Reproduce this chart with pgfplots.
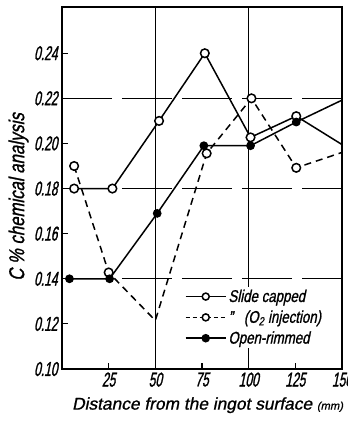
\documentclass[border=0pt]{standalone}
\usepackage{pgfplots}
\pgfplotsset{compat=1.18}
\usepackage{fontspec}
\setmainfont{Liberation Sans}
\newfontfamily\tickfont[FakeStretch=0.6,FakeSlant=0.2,FakeBold=1.2]{Liberation Sans}
\newfontfamily\labfont[FakeStretch=0.78,FakeSlant=0.2,FakeBold=1]{Liberation Sans}
\newfontfamily\xlabfont[FakeStretch=1.02,FakeSlant=0.2,FakeBold=1]{Liberation Sans}
\begin{document}
\begin{tikzpicture}[x=1pt,y=1pt]
\useasboundingbox (-62,-52) rectangle (286,369);
\begin{axis}[at={(0,0)},anchor=south west,scale only axis,width=280pt,height=362pt,
  xmin=0,xmax=150,ymin=0.10,ymax=0.2605,
  xtick={25,50,75,100,125,150},xticklabels={25,50,75,100,125,150},
  ytick={0.10,0.12,0.14,0.16,0.18,0.20,0.22,0.24},
  yticklabels={0.10,0.12,0.14,0.16,0.18,0.20,0.22,0.24},
  tick align=inside, tick pos=left, major tick length=6pt,
  axis line style={line width=2pt},
  tick style={line width=1.2pt,black},
  tick label style={font=\tickfont\fontsize{20}{22}\selectfont},
  xticklabel style={yshift=0pt},
  yticklabel style={xshift=-1pt},
  extra x ticks={50,100}, extra x tick labels={},
  extra x tick style={grid=major, major tick length=0pt, major grid style={solid,line width=1.2pt,black}},
  extra y ticks={0.14,0.18,0.22}, extra y tick labels={},
  extra y tick style={grid=major, major tick length=0pt, major grid style={line width=1.2pt,black,dash pattern=on 50pt off 10pt}},
  xlabel={Distance from the ingot surface {\fontsize{11}{12}\selectfont(mm)}},
  xlabel style={font=\xlabfont\fontsize{17}{20}\selectfont, at={(axis description cs:0.52,-0.1)}, anchor=center},
  ylabel={C \% chemical analysis},
  ylabel style={font=\labfont\fontsize{21.5}{24}\selectfont, at={(axis description cs:-0.155,0.475)}, anchor=center},
  legend style={at={(0.435,0.228)}, anchor=north west, draw=none, fill=white,
    font=\labfont\fontsize{17}{20}\selectfont, row sep=3pt, inner sep=1pt},
  legend cell align=left,
  legend image code/.code={\draw[mark repeat=2,mark phase=2] plot coordinates {(0pt,0pt) (20pt,0pt) (40pt,0pt)};},
]
\addlegendimage{black, line width=1.5pt, mark=*, mark size=3.5pt, mark options={fill=white}}
\addlegendimage{black, line width=1.5pt, dash pattern=on 4pt off 3pt, mark=*, mark size=3.5pt, mark options={fill=white,solid}}
\addlegendimage{black, line width=1.5pt, mark=*, mark size=3.5pt, mark options={fill=black}}
% O2 injection line
\addplot[forget plot, black, line width=1.5pt, dash pattern=on 7pt off 5pt] coordinates {
(6.5,0.190) (25,0.1428) (50,0.1215) (77.5,0.1956) (101.5,0.2200) (125.5,0.1892) (151,0.1963)};
\addplot[forget plot, only marks, black, line width=1.5pt, mark=*, mark size=4.3pt, mark options={fill=white}] coordinates {
(6.5,0.190) (25,0.1428) (77.5,0.1956) (101.5,0.2200) (125.5,0.1892) (151,0.1963)};
% Slide capped
\addplot[forget plot, black, line width=1.5pt, mark=*, mark size=4.3pt, mark options={fill=white}] coordinates {
(6.5,0.180) (27,0.180) (52,0.210) (76.5,0.240) (101,0.2027) (125.5,0.2121) (151,0.199)};
% Open-rimmed
\addplot[forget plot, black, line width=1.5pt, mark=*, mark size=3.6pt, mark options={fill=black}] coordinates {
(4,0.140) (25.5,0.140) (51,0.169) (76,0.199) (101,0.199) (125.5,0.2095) (151,0.2196)};
\legend{Slide capped, {”\ \ \ (O\textsubscript{2} injection)}, Open-rimmed}
\end{axis}
\end{tikzpicture}
\end{document}
